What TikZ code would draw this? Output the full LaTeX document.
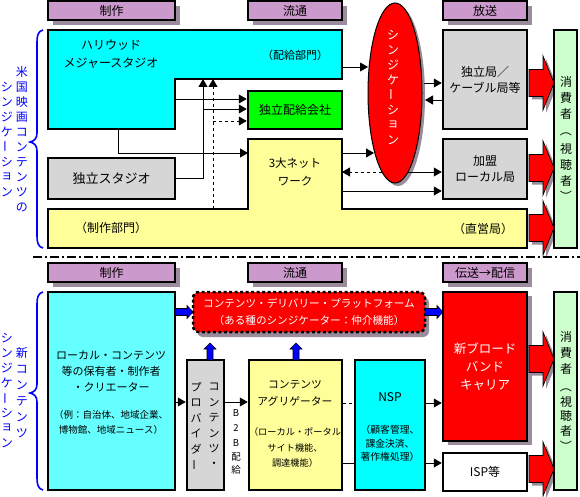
\documentclass[tikz,border=0pt]{standalone}
\usepackage{fontspec}
\setmainfont{Noto Sans CJK JP}
\usetikzlibrary{arrows.meta,shapes.geometric,shadows}
\definecolor{hdrc}{HTML}{CC99CC}
\definecolor{shad}{HTML}{9A8C9A}
\definecolor{cyanc}{HTML}{00FFFF}
\definecolor{cyanl}{HTML}{66FFFF}
\definecolor{grnc}{HTML}{00FF00}
\definecolor{yelc}{HTML}{FFFF99}
\definecolor{redc}{HTML}{FF0000}
\definecolor{conc}{HTML}{CCFFCC}
\definecolor{grayc}{HTML}{D6D6D6}
\definecolor{bluec}{HTML}{0000FF}
\newcommand\fz[2]{\fontsize{#1}{#2}\selectfont}
\newcommand\vbar{\rotatebox[origin=c]{90}{ー}}
\newcommand\vlp{\rotatebox[origin=c]{-90}{（}}
\newcommand\vrp{\rotatebox[origin=c]{-90}{）}}
\newcommand\bigred[1]{%
 \fill[shad] (532,#1-10.5) -- (546,#1-10.5) -- (546,#1-24) -- (557,#1+3) -- (546,#1+30) -- (546,#1+16.5) -- (532,#1+16.5) -- cycle;
 \filldraw[fill=redc, draw=black, line width=0.7pt] (529,#1-13.5) -- (543,#1-13.5) -- (543,#1-27) -- (554,#1) -- (543,#1+27) -- (543,#1+13.5) -- (529,#1+13.5) -- cycle;}
\newcommand\fatr[3]{%
 \filldraw[fill=bluec, draw=black, line width=0.6pt] (#1,#3-3.5) -- (#2-6,#3-3.5) -- (#2-6,#3-6.5) -- (#2,#3) -- (#2-6,#3+6.5) -- (#2-6,#3+3.5) -- (#1,#3+3.5) -- cycle;}
\newcommand\fatu[3]{%
 \filldraw[fill=bluec, draw=black, line width=0.6pt] (#1-3,#2) -- (#1-3,#3+6) -- (#1-6,#3+6) -- (#1,#3) -- (#1+6,#3+6) -- (#1+3,#3+6) -- (#1+3,#2) -- cycle;}
\begin{document}
\begin{tikzpicture}[x=1pt,y=-1pt, font=\fz{12}{14},
 box/.style={draw=black, line width=2.5pt, inner sep=0pt, align=center},
 hdr/.style={box, line width=2pt, fill=hdrc, minimum height=19pt, font=\fz{12}{14},
   general shadow={fill=shad, shadow xshift=5pt, shadow yshift=-5pt}},
 conn/.style={line width=0.8pt, -{Triangle[length=8pt,width=9pt]}},
 ch/.style={inner sep=0pt, font=\fz{12}{12}},
 txt/.style={inner sep=0pt, align=center}]
\useasboundingbox (0,0) rectangle (580,497);
\fill[white] (0,0) rectangle (580,497);

% ---------------- top section ----------------
\node[hdr, minimum width=127pt] (h1) at (111.5,10.5) {制作};
\node[hdr, minimum width=94pt] (h2) at (295,10.5) {流通};
\node[hdr, minimum width=84pt] (h3) at (485,10.5) {放送};

% Hollywood majors
\filldraw[draw=black, line width=2.5pt, fill=cyanc] (48,30) -- (342,30) -- (342,79) -- (175,79) -- (175,129) -- (48,129) -- cycle;
\node[txt, font=\fz{12}{18}] (hwt) at (111,54) {ハリウッド\\メジャースタジオ};
\node[txt, font=\fz{11}{14}] (hwd) at (295,55) {（配給部門）};
\coordinate (hwR) at (342,67);
\coordinate (hwB1) at (175,99);
\coordinate (hwBot) at (118,129);
\coordinate (hwN1) at (203,79);
\coordinate (hwN2) at (213,79);

\node[box, fill=grnc, minimum width=94pt, minimum height=38pt] (dist) at (295,110) {独立配給会社};
\node[box, fill=grayc, minimum width=127pt, minimum height=41pt, font=\fz{13}{15}] (ind) at (111.5,178.5) {独立スタジオ};

% networks / production dept
\filldraw[draw=black, line width=2.5pt, fill=yelc] (48,209) -- (248,209) -- (248,139) -- (342,139) -- (342,209) -- (527,209) -- (527,248) -- (48,248) -- cycle;
\node[txt, font=\fz{11.5}{18}] (nwt) at (295,172) {3大ネット\\ワーク};
\node[txt] (prod) at (111,228) {（制作部門）};
\node[txt] (dir) at (483,229) {（直営局）};
\coordinate (nwL) at (248,153);
\coordinate (nwR1) at (342,153);
\coordinate (nwR2) at (342,172);
\coordinate (nwR3) at (342,191);
\coordinate (pd) at (213,209);

% broadcasters
\node[box, fill=grayc, minimum width=84pt, minimum height=99pt, font=\fz{12}{16}] (loc1) at (485,79.5) {独立局／\\ケーブル局等};
\node[box, fill=grayc, minimum width=84pt, minimum height=60pt, font=\fz{12}{16}] (kamei) at (485,169) {加盟\\ローカル局};

% syndication ellipse
\node[ellipse, draw=black, line width=1pt, fill=redc, minimum width=54pt, minimum height=180pt, inner sep=0pt,
  general shadow={fill=shad, shadow xshift=3pt, shadow yshift=-3pt}] (syn) at (395,93) {};
\foreach \c [count=\i from 0] in {シ,ン,ジ,ケ,\vbar,シ,ョ,ン}
  \node[ch, text=white] (sy\i) at (393,35+15*\i) {\c};
\coordinate (synL67) at (368,67);
\coordinate (synR83) at (424,83);
\coordinate (synR100) at (425,100);
\coordinate (synL153) at (374,153);
\coordinate (synL172) at (382,172);
\coordinate (synR172) at (408,172);

% red arrows to consumers (top)
\bigred{83}
\bigred{168}
\bigred{228}
\node[box, line width=2pt, fill=conc, minimum width=23pt, minimum height=218pt] (con1) at (565.5,139) {};
\foreach \c/\yy [count=\i] in {消/82,費/98,者/114,\vlp/131,視/149,聴/165,者/181,\vrp/196}
  \node[ch] (ca\i) at (566,\yy) {\c};

% connectors (top)
\draw[conn] (hwR) -- (synL67);
\draw[conn] (synR83) -- (loc1.west |- synR83);
\draw[conn] (loc1.west |- synR100) -- (synR100);
\draw[conn] (hwB1) -- (dist.west |- hwB1);
\coordinate (j1) at (203,109);
\coordinate (j2) at (213,121);
\draw[conn] (ind.east) -| (hwN1);
\draw[conn] (j1) -- (dist.west |- j1);
\draw[conn, dashed] (pd) -- (hwN2);
\draw[conn, dashed] (j2) -- (dist.west |- j2);
\draw[conn] (hwBot) |- (nwL);
\draw[conn] (nwR1) -- (synL153);
\draw[conn, dashed] (synL172) -- (nwR2);
\draw[conn] (synR172) -- (kamei.west |- synR172);
\draw[conn] (nwR3) -- (kamei.west |- nwR3);

% brace + label (top)
\draw[bluec, line width=1.6pt] (43,30) .. controls (38,31) and (37,36) .. (37,42) -- (37,133) .. controls (37,139) and (34,141) .. (30,142) .. controls (34,143) and (37,145) .. (37,151) -- (37,236) .. controls (37,242) and (38,247) .. (43,248);
\foreach \c [count=\i from 0] in {シ,ン,ジ,ケ,\vbar,シ,ョ,ン}
  \node[ch, text=bluec] (tl\i) at (7,87+15*\i) {\c};
\foreach \c [count=\i from 0] in {米,国,映,画,コ,ン,テ,ン,ツ,の}
  \node[ch, text=bluec] (tr\i) at (22,72+15*\i) {\c};

% separator
\draw[line width=1.5pt, dash pattern=on 9pt off 3pt on 2pt off 3pt] (33,257) -- (580,257);

% ---------------- bottom section ----------------
\node[hdr, minimum width=127pt] (h4) at (111.5,272.5) {制作};
\node[hdr, minimum width=94pt] (h5) at (295,272.5) {流通};
\node[hdr, minimum width=84pt] (h6) at (485,272.5) {伝送→配信};

\node[draw=black, line width=2.5pt, dash pattern=on 3pt off 2.5pt, rounded corners=6pt, fill=redc,
  minimum width=232pt, minimum height=40pt, inner sep=0pt, align=center, text=white, font=\fz{10.6}{17},
  general shadow={fill=shad, shadow xshift=4pt, shadow yshift=-5pt}] (plat) at (309,312)
  {コンテンツ・デリバリー・プラットフォーム\\（ある種のシンジケーター：仲介機能）};

\node[box, fill=cyanl, minimum width=127pt, minimum height=198pt] (loc) at (111.5,391) {};
\node[txt, font=\fz{11}{16}] (loct1) at (111,371) {ローカル・コンテンツ\\等の保有者・制作者\\・クリエーター};
\node[txt, font=\fz{9.5}{15}] (loct2) at (111,422.5) {（例：自治体、地域企業、\\博物館、地域ニュース）};

\node[box, fill=grayc, minimum width=37pt, minimum height=130pt] (prov) at (205.5,425) {};
\foreach \c [count=\i from 0] in {コ,ン,テ,ン,ツ,・}
  \node[ch, font=\fz{11}{11}] (pr\i) at (214,387+15.5*\i) {\c};
\foreach \c [count=\i from 0] in {プ,ロ,バ,イ,ダ,\vbar}
  \node[ch, font=\fz{11}{11}] (pl\i) at (196,387+15.5*\i) {\c};
\foreach \c/\yy [count=\i] in {B/413,2/428,B/443,配/457,給/470}
  \node[ch, font=\fz{9.5}{10}] (bb\i) at (236,\yy) {\c};

\node[box, fill=yelc, minimum width=93pt, minimum height=130pt] (agg) at (295.5,425) {};
\node[txt, font=\fz{10.8}{17}] (aggt1) at (295,393.5) {コンテンツ\\アグリゲーター};
\node[txt, font=\fz{9.2}{15.5}] (aggt2) at (295,447.5) {（ローカル・ポータル\\サイト機能、\\調達機能）};

\node[box, fill=cyanc, minimum width=70pt, minimum height=130pt] (nsp) at (390,425) {};
\node[txt, font=\fz{12}{14}] (nspt1) at (390,397) {NSP};
\node[txt, font=\fz{9.8}{13.5}] (nspt2) at (390,443.5) {（顧客管理、\\課金決済、\\著作権処理）};

\node[box, fill=redc, minimum width=84pt, minimum height=149pt, text=white, font=\fz{12.5}{18},
  general shadow={fill=shad, shadow xshift=5pt, shadow yshift=-4pt}] (car) at (485,366.5) {新ブロード\\バンド\\キャリア};
\node[box, fill=white, minimum width=84pt, minimum height=38pt] (isp) at (485,472) {ISP等};

\bigred{359}
\bigred{469}
\node[box, line width=2pt, fill=conc, minimum width=23pt, minimum height=198pt] (con2) at (565.5,391) {};
\foreach \c/\yy [count=\i] in {消/337,費/353,者/369,\vlp/386,視/402,聴/416,者/431,\vrp/446}
  \node[ch] (cb\i) at (566,\yy) {\c};

% connectors (bottom)
\coordinate (y402) at (0,402);
\coordinate (y403) at (0,403);
\coordinate (y463) at (0,463);
\draw[conn] (loc.east |- y402) -- (prov.west |- y402);
\draw[conn] (prov.east |- y402) -- (agg.west |- y402);
\draw[line width=0.8pt, dashed] (agg.east |- y403) -- (nsp.west |- y403);
\draw[line width=0.8pt] (agg.east |- y463) -- (nsp.west |- y463);
\draw[conn] (nsp.east |- y403) -- (car.west |- y403);
\draw[conn] (nsp.east |- y463) -- (isp.west |- y463);

% fat blue arrows
\fatr{175}{193}{312}
\fatr{425}{443}{312}
\fatu{210}{360}{343}
\fatu{296}{360}{343}

% brace + label (bottom)
\draw[bluec, line width=1.6pt] (43,292) .. controls (38,293) and (37,298) .. (37,304) -- (37,384) .. controls (37,390) and (34,392) .. (30,393) .. controls (34,394) and (37,396) .. (37,402) -- (37,478) .. controls (37,484) and (38,489) .. (43,490);
\foreach \c [count=\i from 0] in {シ,ン,ジ,ケ,\vbar,シ,ョ,ン}
  \node[ch, text=bluec] (bl\i) at (7,338+15*\i) {\c};
\foreach \c [count=\i from 0] in {新,コ,ン,テ,ン,ツ}
  \node[ch, text=bluec] (br\i) at (22,353+16*\i) {\c};
\end{tikzpicture}
\end{document}
